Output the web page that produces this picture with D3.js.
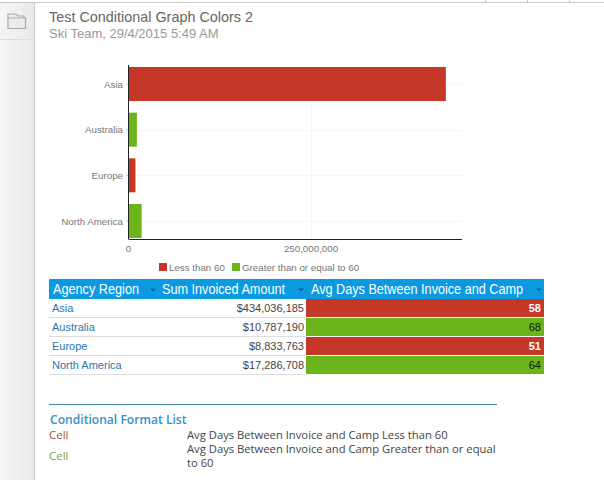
<!DOCTYPE html>
<html>
<head>
<meta charset="utf-8">
<script src="https://cdn.jsdelivr.net/npm/d3@7"></script>
<style>
  html, body { margin: 0; padding: 0; background: #fff; overflow: hidden; }
  svg { display: block; font-family: "Liberation Sans", Arial, sans-serif; }
</style>
</head>
<body>
<svg id="chart" width="604" height="480"></svg>
<script>
const regions = ['Asia', 'Australia', 'Europe', 'North America'];
const invoiced = [434036185, 10787190, 8833763, 17286708];
const avgDays = [58, 68, 51, 64];
const xTicks = [0, 250000000];
const legendLabels = ['Less than 60', 'Greater than or equal to 60'];
const headers = ['Agency Region', 'Sum Invoiced Amount', 'Avg Days Between Invoice and Camp'];
const formatLabels = ['Avg Days Between Invoice and Camp Less than 60', 'Avg Days Between Invoice and Camp Greater than or equal', 'to 60'];

const RED = '#c53727';
const GREEN = '#6bb51a';
const BLUE = '#0b9ae2';
const svg = d3.select('#chart');
const money = d3.format('$,');

// page frame
const rail = svg.append('defs').append('linearGradient').attr('id', 'rail');
rail.append('stop').attr('offset', '0').attr('stop-color', '#f6f6f6');
rail.append('stop').attr('offset', '1').attr('stop-color', '#e9e9e9');
svg.append('rect').attr('x', 0).attr('y', 3).attr('width', 34).attr('height', 477).attr('fill', 'url(#rail)');
svg.append('line').attr('x1', 34.5).attr('x2', 34.5).attr('y1', 3).attr('y2', 480).attr('stroke', '#cfcfcf');
svg.append('line').attr('x1', 0).attr('x2', 34).attr('y1', 39.5).attr('y2', 39.5).attr('stroke', '#dedede');
svg.append('line').attr('x1', 0).attr('x2', 604).attr('y1', 2.5).attr('y2', 2.5).attr('stroke', '#c8c8c8');
[485.5, 527.5, 569.5].forEach(x => {
  svg.append('line').attr('x1', x).attr('x2', x).attr('y1', 0).attr('y2', 3).attr('stroke', '#c8c8c8');
});
svg.append('path')
  .attr('d', 'M8 26 V14 H16 L18 16 H24 V18 M8 18 H25.5 V28.5 H8 V18')
  .attr('fill', '#ececec').attr('stroke', '#a9a9a9').attr('stroke-width', 1.2);

// title
svg.append('text').attr('x', 49).attr('y', 22).attr('font-size', 14.4).attr('fill', '#666').text('Test Conditional Graph Colors 2');
svg.append('text').attr('x', 49).attr('y', 38).attr('font-size', 13).attr('fill', '#999').text('Ski Team, 29/4/2015 5:49 AM');

// chart
const x = d3.scaleLinear().domain([0, 250000000]).range([129, 311.5]);
const y = d3.scaleBand().domain(regions).range([65, 240]).paddingInner(0.2555).paddingOuter(0.044);
const colorOf = i => avgDays[i] < 60 ? RED : GREEN;
const axisY = 239.5;
const axisRight = 462;

svg.append('g').selectAll('line').data(regions).join('line')
  .attr('x1', 129).attr('x2', axisRight)
  .attr('y1', d => Math.round(y(d) + y.bandwidth() / 2) + 0.5)
  .attr('y2', d => Math.round(y(d) + y.bandwidth() / 2) + 0.5)
  .attr('stroke', '#f6f6f6');
svg.append('line').attr('x1', x(250000000)).attr('x2', x(250000000)).attr('y1', 101).attr('y2', axisY).attr('stroke', '#f4f4f4');

svg.append('g').selectAll('rect').data(regions).join('rect')
  .attr('x', x(0))
  .attr('y', d => y(d))
  .attr('width', (d, i) => x(invoiced[i]) - x(0))
  .attr('height', y.bandwidth())
  .attr('fill', (d, i) => colorOf(i));

const xAxis = d3.axisBottom(x).tickValues(xTicks).tickSize(0).tickPadding(6)
  .tickFormat(d3.format(','));
const xg = svg.append('g').attr('transform', `translate(-1,${axisY})`).call(xAxis);
xg.select('.domain').remove();
xg.selectAll('text').attr('font-size', 9.75).attr('font-family', 'Liberation Sans').attr('fill', '#777');
svg.append('line').attr('x1', 129).attr('x2', axisRight).attr('y1', axisY).attr('y2', axisY).attr('stroke', '#222');

const yAxis = d3.axisLeft(y).tickSize(3).tickPadding(3);
const yg = svg.append('g').attr('transform', 'translate(129,0)').call(yAxis);
yg.select('.domain').remove();
yg.selectAll('line').attr('stroke', '#ccc');
yg.selectAll('text').attr('font-size', 9.75).attr('font-family', 'Liberation Sans').attr('fill', '#777').attr('dy', '0.36em');
svg.append('line').attr('x1', 128.5).attr('x2', 128.5).attr('y1', 65).attr('y2', axisY).attr('stroke', '#222');

// legend
const legendX = [159, 232];
[RED, GREEN].forEach((c, i) => {
  svg.append('rect').attr('x', legendX[i]).attr('y', 263).attr('width', 8).attr('height', 8).attr('fill', c);
  svg.append('text').attr('x', legendX[i] + 10).attr('y', 271).attr('font-size', 9.75).attr('fill', '#777').text(legendLabels[i]);
});

// table
const headerX = [53, 162, 311];
const headerW = [86, 123, 212];
const arrowX = [153, 301, 539];
svg.append('rect').attr('x', 49).attr('y', 279).attr('width', 495).attr('height', 20).attr('fill', BLUE);
headers.forEach((h, i) => {
  svg.append('text').attr('x', headerX[i]).attr('y', 293.5).attr('font-size', 14).attr('fill', '#fff')
    .attr('textLength', headerW[i]).attr('lengthAdjust', 'spacingAndGlyphs').text(h);
  svg.append('path')
    .attr('d', `M${arrowX[i] - 3} 288.5 h6 l-3 3 z`)
    .attr('fill', '#0a5f9a');
});

const rowY = d3.scaleBand().domain(regions).range([299, 375]);
const rows = svg.append('g').selectAll('g').data(regions).join('g')
  .attr('transform', d => `translate(0,${rowY(d)})`);
rows.append('rect').attr('x', 306).attr('y', 0).attr('width', 238).attr('height', 18)
  .attr('fill', (d, i) => colorOf(i));
rows.append('line').attr('x1', 49).attr('x2', 306).attr('y1', 18.5).attr('y2', 18.5).attr('stroke', '#ddd');
rows.append('text').attr('x', 52).attr('y', 13).attr('font-size', 11).attr('fill', '#2b77ad').text(d => d);
rows.append('text').attr('x', 304).attr('y', 13).attr('font-size', 11).attr('text-anchor', 'end').attr('fill', '#444')
  .text((d, i) => money(invoiced[i]));
rows.append('text').attr('x', 541).attr('y', 13).attr('font-size', 11).attr('text-anchor', 'end')
  .attr('font-weight', (d, i) => avgDays[i] < 60 ? 'bold' : 'normal')
  .attr('fill', (d, i) => avgDays[i] < 60 ? '#fff' : '#111')
  .text((d, i) => avgDays[i]);

// conditional format list
svg.append('line').attr('x1', 49).attr('x2', 497).attr('y1', 404.5).attr('y2', 404.5).attr('stroke', '#3f86ad');
const list = svg.append('g').attr('font-family', '"Open Sans"');
list.append('text').attr('x', 50).attr('y', 424).attr('font-size', 12.1).attr('font-weight', 600).attr('fill', '#3a8fc4').text('Conditional Format List');
list.append('text').attr('x', 49).attr('y', 439).attr('font-size', 11.5).attr('fill', '#a4553f').text('Cell');
list.append('text').attr('x', 49).attr('y', 460).attr('font-size', 11.5).attr('fill', '#7da34f').text('Cell');
list.append('text').attr('x', 187).attr('y', 439).attr('font-size', 11.24).attr('fill', '#444').text(formatLabels[0]);
const wrapped = list.append('text').attr('y', 453).attr('font-size', 11.24).attr('fill', '#444');
wrapped.append('tspan').attr('x', 187).text(formatLabels[1]);
wrapped.append('tspan').attr('x', 187).attr('dy', 14).text(formatLabels[2]);
</script>
</body>
</html>
